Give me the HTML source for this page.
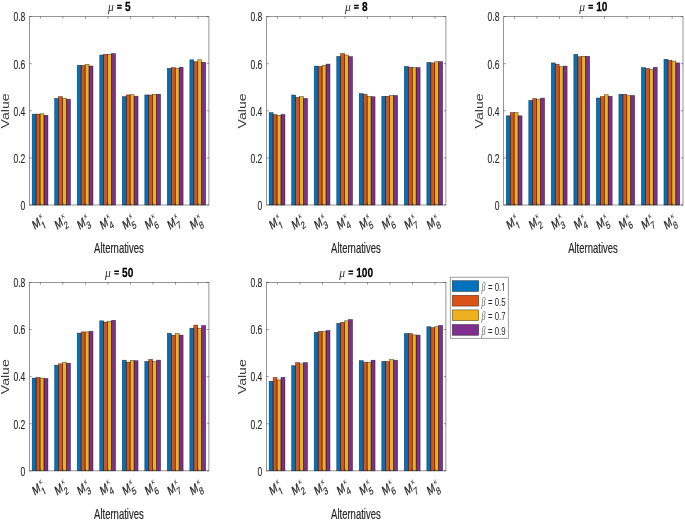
<!DOCTYPE html>
<html><head><meta charset="utf-8"><title>Figure</title>
<style>
html,body{margin:0;padding:0;background:#fff;}
body{width:685px;height:521px;overflow:hidden;}
svg{display:block;will-change:transform;}
text{font-family:"Liberation Sans",sans-serif;fill:#262626;}
.tk{font-size:12.8px;stroke:#262626;stroke-width:0.12;}
.lb{font-size:14.2px;stroke:#262626;stroke-width:0.2;}
.tt{font-size:13.3px;font-weight:bold;fill:#000;stroke:#000;stroke-width:0.25;}
.tmu{font-family:"Liberation Serif",serif;font-style:italic;font-size:12.2px;fill:#333;}
.xm{font-size:12.9px;stroke:#262626;stroke-width:0.3;}
.xs{font-size:10.6px;stroke:#262626;stroke-width:0.2;}
.xk{font-size:7.8px;}
.lbv{font-size:14.1px;fill:#3c3c3c;}
.lg{font-size:11.4px;}
.lg .be{font-family:"Liberation Serif",serif;font-style:italic;font-size:11.8px;fill:#6a6a6a;}
</style></head>
<body>
<svg width="685" height="521" viewBox="0 0 685 521">
<rect width="685" height="521" fill="#fff"/>
<rect x="32.16" y="114.1" width="3.95" height="90.9" fill="#0072BD"/>
<rect x="36.11" y="114.1" width="3.95" height="90.9" fill="#D95319"/>
<rect x="40.06" y="113.8" width="3.95" height="91.2" fill="#EDB120"/>
<rect x="44.01" y="115.3" width="3.95" height="89.7" fill="#7E2F8E"/>
<rect x="32.16" y="114.1" width="3.95" height="90.9" fill="none" stroke="#000" stroke-width="0.6" stroke-opacity="0.6"/>
<rect x="36.11" y="114.1" width="3.95" height="90.9" fill="none" stroke="#000" stroke-width="0.6" stroke-opacity="0.6"/>
<rect x="40.06" y="113.8" width="3.95" height="91.2" fill="none" stroke="#000" stroke-width="0.6" stroke-opacity="0.6"/>
<rect x="44.01" y="115.3" width="3.95" height="89.7" fill="none" stroke="#000" stroke-width="0.6" stroke-opacity="0.6"/>
<rect x="54.68" y="98.4" width="3.95" height="106.6" fill="#0072BD"/>
<rect x="58.63" y="96.6" width="3.95" height="108.4" fill="#D95319"/>
<rect x="62.58" y="98.4" width="3.95" height="106.6" fill="#EDB120"/>
<rect x="66.53" y="99.2" width="3.95" height="105.8" fill="#7E2F8E"/>
<rect x="54.68" y="98.4" width="3.95" height="106.6" fill="none" stroke="#000" stroke-width="0.6" stroke-opacity="0.6"/>
<rect x="58.63" y="96.6" width="3.95" height="108.4" fill="none" stroke="#000" stroke-width="0.6" stroke-opacity="0.6"/>
<rect x="62.58" y="98.4" width="3.95" height="106.6" fill="none" stroke="#000" stroke-width="0.6" stroke-opacity="0.6"/>
<rect x="66.53" y="99.2" width="3.95" height="105.8" fill="none" stroke="#000" stroke-width="0.6" stroke-opacity="0.6"/>
<rect x="77.21" y="65.4" width="3.95" height="139.6" fill="#0072BD"/>
<rect x="81.16" y="65.4" width="3.95" height="139.6" fill="#D95319"/>
<rect x="85.11" y="64.4" width="3.95" height="140.6" fill="#EDB120"/>
<rect x="89.06" y="66" width="3.95" height="139" fill="#7E2F8E"/>
<rect x="77.21" y="65.4" width="3.95" height="139.6" fill="none" stroke="#000" stroke-width="0.6" stroke-opacity="0.6"/>
<rect x="81.16" y="65.4" width="3.95" height="139.6" fill="none" stroke="#000" stroke-width="0.6" stroke-opacity="0.6"/>
<rect x="85.11" y="64.4" width="3.95" height="140.6" fill="none" stroke="#000" stroke-width="0.6" stroke-opacity="0.6"/>
<rect x="89.06" y="66" width="3.95" height="139" fill="none" stroke="#000" stroke-width="0.6" stroke-opacity="0.6"/>
<rect x="99.74" y="55" width="3.95" height="150" fill="#0072BD"/>
<rect x="103.69" y="54.3" width="3.95" height="150.7" fill="#D95319"/>
<rect x="107.64" y="54.3" width="3.95" height="150.7" fill="#EDB120"/>
<rect x="111.59" y="53.5" width="3.95" height="151.5" fill="#7E2F8E"/>
<rect x="99.74" y="55" width="3.95" height="150" fill="none" stroke="#000" stroke-width="0.6" stroke-opacity="0.6"/>
<rect x="103.69" y="54.3" width="3.95" height="150.7" fill="none" stroke="#000" stroke-width="0.6" stroke-opacity="0.6"/>
<rect x="107.64" y="54.3" width="3.95" height="150.7" fill="none" stroke="#000" stroke-width="0.6" stroke-opacity="0.6"/>
<rect x="111.59" y="53.5" width="3.95" height="151.5" fill="none" stroke="#000" stroke-width="0.6" stroke-opacity="0.6"/>
<rect x="122.26" y="96.6" width="3.95" height="108.4" fill="#0072BD"/>
<rect x="126.21" y="94.9" width="3.95" height="110.1" fill="#D95319"/>
<rect x="130.16" y="94.7" width="3.95" height="110.3" fill="#EDB120"/>
<rect x="134.11" y="96.2" width="3.95" height="108.8" fill="#7E2F8E"/>
<rect x="122.26" y="96.6" width="3.95" height="108.4" fill="none" stroke="#000" stroke-width="0.6" stroke-opacity="0.6"/>
<rect x="126.21" y="94.9" width="3.95" height="110.1" fill="none" stroke="#000" stroke-width="0.6" stroke-opacity="0.6"/>
<rect x="130.16" y="94.7" width="3.95" height="110.3" fill="none" stroke="#000" stroke-width="0.6" stroke-opacity="0.6"/>
<rect x="134.11" y="96.2" width="3.95" height="108.8" fill="none" stroke="#000" stroke-width="0.6" stroke-opacity="0.6"/>
<rect x="144.79" y="94.9" width="3.95" height="110.1" fill="#0072BD"/>
<rect x="148.74" y="95" width="3.95" height="110" fill="#D95319"/>
<rect x="152.69" y="94.3" width="3.95" height="110.7" fill="#EDB120"/>
<rect x="156.64" y="94.2" width="3.95" height="110.8" fill="#7E2F8E"/>
<rect x="144.79" y="94.9" width="3.95" height="110.1" fill="none" stroke="#000" stroke-width="0.6" stroke-opacity="0.6"/>
<rect x="148.74" y="95" width="3.95" height="110" fill="none" stroke="#000" stroke-width="0.6" stroke-opacity="0.6"/>
<rect x="152.69" y="94.3" width="3.95" height="110.7" fill="none" stroke="#000" stroke-width="0.6" stroke-opacity="0.6"/>
<rect x="156.64" y="94.2" width="3.95" height="110.8" fill="none" stroke="#000" stroke-width="0.6" stroke-opacity="0.6"/>
<rect x="167.32" y="68.3" width="3.95" height="136.7" fill="#0072BD"/>
<rect x="171.27" y="67.6" width="3.95" height="137.4" fill="#D95319"/>
<rect x="175.22" y="68.4" width="3.95" height="136.6" fill="#EDB120"/>
<rect x="179.17" y="67.2" width="3.95" height="137.8" fill="#7E2F8E"/>
<rect x="167.32" y="68.3" width="3.95" height="136.7" fill="none" stroke="#000" stroke-width="0.6" stroke-opacity="0.6"/>
<rect x="171.27" y="67.6" width="3.95" height="137.4" fill="none" stroke="#000" stroke-width="0.6" stroke-opacity="0.6"/>
<rect x="175.22" y="68.4" width="3.95" height="136.6" fill="none" stroke="#000" stroke-width="0.6" stroke-opacity="0.6"/>
<rect x="179.17" y="67.2" width="3.95" height="137.8" fill="none" stroke="#000" stroke-width="0.6" stroke-opacity="0.6"/>
<rect x="189.84" y="59.8" width="3.95" height="145.2" fill="#0072BD"/>
<rect x="193.79" y="61.7" width="3.95" height="143.3" fill="#D95319"/>
<rect x="197.74" y="59.7" width="3.95" height="145.3" fill="#EDB120"/>
<rect x="201.69" y="62.2" width="3.95" height="142.8" fill="#7E2F8E"/>
<rect x="189.84" y="59.8" width="3.95" height="145.2" fill="none" stroke="#000" stroke-width="0.6" stroke-opacity="0.6"/>
<rect x="193.79" y="61.7" width="3.95" height="143.3" fill="none" stroke="#000" stroke-width="0.6" stroke-opacity="0.6"/>
<rect x="197.74" y="59.7" width="3.95" height="145.3" fill="none" stroke="#000" stroke-width="0.6" stroke-opacity="0.6"/>
<rect x="201.69" y="62.2" width="3.95" height="142.8" fill="none" stroke="#000" stroke-width="0.6" stroke-opacity="0.6"/>
<rect x="29.5" y="16.6" width="179.4" height="188.4" fill="none" stroke="#262626" stroke-width="0.8" stroke-opacity="0.6"/>
<line x1="40.36" y1="205" x2="40.36" y2="202.8" stroke="#262626" stroke-width="0.8" stroke-opacity="0.6"/>
<line x1="40.36" y1="16.6" x2="40.36" y2="18.8" stroke="#262626" stroke-width="0.8" stroke-opacity="0.6"/>
<line x1="62.88" y1="205" x2="62.88" y2="202.8" stroke="#262626" stroke-width="0.8" stroke-opacity="0.6"/>
<line x1="62.88" y1="16.6" x2="62.88" y2="18.8" stroke="#262626" stroke-width="0.8" stroke-opacity="0.6"/>
<line x1="85.41" y1="205" x2="85.41" y2="202.8" stroke="#262626" stroke-width="0.8" stroke-opacity="0.6"/>
<line x1="85.41" y1="16.6" x2="85.41" y2="18.8" stroke="#262626" stroke-width="0.8" stroke-opacity="0.6"/>
<line x1="107.94" y1="205" x2="107.94" y2="202.8" stroke="#262626" stroke-width="0.8" stroke-opacity="0.6"/>
<line x1="107.94" y1="16.6" x2="107.94" y2="18.8" stroke="#262626" stroke-width="0.8" stroke-opacity="0.6"/>
<line x1="130.46" y1="205" x2="130.46" y2="202.8" stroke="#262626" stroke-width="0.8" stroke-opacity="0.6"/>
<line x1="130.46" y1="16.6" x2="130.46" y2="18.8" stroke="#262626" stroke-width="0.8" stroke-opacity="0.6"/>
<line x1="152.99" y1="205" x2="152.99" y2="202.8" stroke="#262626" stroke-width="0.8" stroke-opacity="0.6"/>
<line x1="152.99" y1="16.6" x2="152.99" y2="18.8" stroke="#262626" stroke-width="0.8" stroke-opacity="0.6"/>
<line x1="175.52" y1="205" x2="175.52" y2="202.8" stroke="#262626" stroke-width="0.8" stroke-opacity="0.6"/>
<line x1="175.52" y1="16.6" x2="175.52" y2="18.8" stroke="#262626" stroke-width="0.8" stroke-opacity="0.6"/>
<line x1="198.04" y1="205" x2="198.04" y2="202.8" stroke="#262626" stroke-width="0.8" stroke-opacity="0.6"/>
<line x1="198.04" y1="16.6" x2="198.04" y2="18.8" stroke="#262626" stroke-width="0.8" stroke-opacity="0.6"/>
<line x1="29.5" y1="205" x2="31.7" y2="205" stroke="#262626" stroke-width="0.8" stroke-opacity="0.6"/>
<line x1="208.9" y1="205" x2="206.7" y2="205" stroke="#262626" stroke-width="0.8" stroke-opacity="0.6"/>
<line x1="29.5" y1="157.9" x2="31.7" y2="157.9" stroke="#262626" stroke-width="0.8" stroke-opacity="0.6"/>
<line x1="208.9" y1="157.9" x2="206.7" y2="157.9" stroke="#262626" stroke-width="0.8" stroke-opacity="0.6"/>
<line x1="29.5" y1="110.8" x2="31.7" y2="110.8" stroke="#262626" stroke-width="0.8" stroke-opacity="0.6"/>
<line x1="208.9" y1="110.8" x2="206.7" y2="110.8" stroke="#262626" stroke-width="0.8" stroke-opacity="0.6"/>
<line x1="29.5" y1="63.7" x2="31.7" y2="63.7" stroke="#262626" stroke-width="0.8" stroke-opacity="0.6"/>
<line x1="208.9" y1="63.7" x2="206.7" y2="63.7" stroke="#262626" stroke-width="0.8" stroke-opacity="0.6"/>
<line x1="29.5" y1="16.6" x2="31.7" y2="16.6" stroke="#262626" stroke-width="0.8" stroke-opacity="0.6"/>
<line x1="208.9" y1="16.6" x2="206.7" y2="16.6" stroke="#262626" stroke-width="0.8" stroke-opacity="0.6"/>
<text class="tk" text-anchor="end" transform="translate(25.3,209.85) scale(0.67,1)">0</text>
<text class="tk" text-anchor="end" transform="translate(25.3,162.75) scale(0.67,1)">0.2</text>
<text class="tk" text-anchor="end" transform="translate(25.3,115.65) scale(0.67,1)">0.4</text>
<text class="tk" text-anchor="end" transform="translate(25.3,68.55) scale(0.67,1)">0.6</text>
<text class="tk" text-anchor="end" transform="translate(25.3,21.45) scale(0.67,1)">0.8</text>
<text class="lbv" text-anchor="middle" transform="translate(8.9,110.9) scale(0.72,1) rotate(-90)">Value</text>
<text class="lb" text-anchor="middle" transform="translate(118.9,252.9) scale(0.67,1)">Alternatives</text>
<g transform="translate(119.6,11) scale(0.76,1)"><text class="tmu" transform="translate(-15.34,0) scale(1.25,1.02)">&#956;</text><path d="M-3.32,-3.65h6.1v1.45h-6.1zM-3.32,-6.25h6.1v1.4h-6.1z" fill="#000"/><text class="tt" x="6.95" y="0">5</text></g>
<g transform="translate(34.56,229.9) scale(0.7,1) rotate(-30)"><text class="xm" x="0" y="0">M</text><path d="M515,0L515,1237L197,1010L197,1180L530,1409L696,1409L696,0Z" transform="translate(10.9,6.1) scale(0.005176,-0.005176)" fill="#262626" stroke="#262626" stroke-width="40"/><text class="xk" x="12.2" y="-5.6">&#954;</text></g>
<g transform="translate(57.08,229.9) scale(0.7,1) rotate(-30)"><text class="xm" x="0" y="0">M</text><text class="xs" x="10.9" y="6.1">2</text><text class="xk" x="12.2" y="-5.6">&#954;</text></g>
<g transform="translate(79.61,229.9) scale(0.7,1) rotate(-30)"><text class="xm" x="0" y="0">M</text><text class="xs" x="10.9" y="6.1">3</text><text class="xk" x="12.2" y="-5.6">&#954;</text></g>
<g transform="translate(102.14,229.9) scale(0.7,1) rotate(-30)"><text class="xm" x="0" y="0">M</text><text class="xs" x="10.9" y="6.1">4</text><text class="xk" x="12.2" y="-5.6">&#954;</text></g>
<g transform="translate(124.66,229.9) scale(0.7,1) rotate(-30)"><text class="xm" x="0" y="0">M</text><text class="xs" x="10.9" y="6.1">5</text><text class="xk" x="12.2" y="-5.6">&#954;</text></g>
<g transform="translate(147.19,229.9) scale(0.7,1) rotate(-30)"><text class="xm" x="0" y="0">M</text><text class="xs" x="10.9" y="6.1">6</text><text class="xk" x="12.2" y="-5.6">&#954;</text></g>
<g transform="translate(169.72,229.9) scale(0.7,1) rotate(-30)"><text class="xm" x="0" y="0">M</text><text class="xs" x="10.9" y="6.1">7</text><text class="xk" x="12.2" y="-5.6">&#954;</text></g>
<g transform="translate(192.24,229.9) scale(0.7,1) rotate(-30)"><text class="xm" x="0" y="0">M</text><text class="xs" x="10.9" y="6.1">8</text><text class="xk" x="12.2" y="-5.6">&#954;</text></g>
<rect x="269.16" y="112.6" width="3.95" height="92.4" fill="#0072BD"/>
<rect x="273.11" y="114.6" width="3.95" height="90.4" fill="#D95319"/>
<rect x="277.06" y="115.3" width="3.95" height="89.7" fill="#EDB120"/>
<rect x="281.01" y="114.5" width="3.95" height="90.5" fill="#7E2F8E"/>
<rect x="269.16" y="112.6" width="3.95" height="92.4" fill="none" stroke="#000" stroke-width="0.6" stroke-opacity="0.6"/>
<rect x="273.11" y="114.6" width="3.95" height="90.4" fill="none" stroke="#000" stroke-width="0.6" stroke-opacity="0.6"/>
<rect x="277.06" y="115.3" width="3.95" height="89.7" fill="none" stroke="#000" stroke-width="0.6" stroke-opacity="0.6"/>
<rect x="281.01" y="114.5" width="3.95" height="90.5" fill="none" stroke="#000" stroke-width="0.6" stroke-opacity="0.6"/>
<rect x="291.68" y="95" width="3.95" height="110" fill="#0072BD"/>
<rect x="295.63" y="97.3" width="3.95" height="107.7" fill="#D95319"/>
<rect x="299.58" y="96.6" width="3.95" height="108.4" fill="#EDB120"/>
<rect x="303.53" y="98.4" width="3.95" height="106.6" fill="#7E2F8E"/>
<rect x="291.68" y="95" width="3.95" height="110" fill="none" stroke="#000" stroke-width="0.6" stroke-opacity="0.6"/>
<rect x="295.63" y="97.3" width="3.95" height="107.7" fill="none" stroke="#000" stroke-width="0.6" stroke-opacity="0.6"/>
<rect x="299.58" y="96.6" width="3.95" height="108.4" fill="none" stroke="#000" stroke-width="0.6" stroke-opacity="0.6"/>
<rect x="303.53" y="98.4" width="3.95" height="106.6" fill="none" stroke="#000" stroke-width="0.6" stroke-opacity="0.6"/>
<rect x="314.21" y="66.1" width="3.95" height="138.9" fill="#0072BD"/>
<rect x="318.16" y="66.5" width="3.95" height="138.5" fill="#D95319"/>
<rect x="322.11" y="65.4" width="3.95" height="139.6" fill="#EDB120"/>
<rect x="326.06" y="64.1" width="3.95" height="140.9" fill="#7E2F8E"/>
<rect x="314.21" y="66.1" width="3.95" height="138.9" fill="none" stroke="#000" stroke-width="0.6" stroke-opacity="0.6"/>
<rect x="318.16" y="66.5" width="3.95" height="138.5" fill="none" stroke="#000" stroke-width="0.6" stroke-opacity="0.6"/>
<rect x="322.11" y="65.4" width="3.95" height="139.6" fill="none" stroke="#000" stroke-width="0.6" stroke-opacity="0.6"/>
<rect x="326.06" y="64.1" width="3.95" height="140.9" fill="none" stroke="#000" stroke-width="0.6" stroke-opacity="0.6"/>
<rect x="336.74" y="56.4" width="3.95" height="148.6" fill="#0072BD"/>
<rect x="340.69" y="53.6" width="3.95" height="151.4" fill="#D95319"/>
<rect x="344.64" y="55" width="3.95" height="150" fill="#EDB120"/>
<rect x="348.59" y="56.6" width="3.95" height="148.4" fill="#7E2F8E"/>
<rect x="336.74" y="56.4" width="3.95" height="148.6" fill="none" stroke="#000" stroke-width="0.6" stroke-opacity="0.6"/>
<rect x="340.69" y="53.6" width="3.95" height="151.4" fill="none" stroke="#000" stroke-width="0.6" stroke-opacity="0.6"/>
<rect x="344.64" y="55" width="3.95" height="150" fill="none" stroke="#000" stroke-width="0.6" stroke-opacity="0.6"/>
<rect x="348.59" y="56.6" width="3.95" height="148.4" fill="none" stroke="#000" stroke-width="0.6" stroke-opacity="0.6"/>
<rect x="359.26" y="93.5" width="3.95" height="111.5" fill="#0072BD"/>
<rect x="363.21" y="94.3" width="3.95" height="110.7" fill="#D95319"/>
<rect x="367.16" y="96.3" width="3.95" height="108.7" fill="#EDB120"/>
<rect x="371.11" y="96.7" width="3.95" height="108.3" fill="#7E2F8E"/>
<rect x="359.26" y="93.5" width="3.95" height="111.5" fill="none" stroke="#000" stroke-width="0.6" stroke-opacity="0.6"/>
<rect x="363.21" y="94.3" width="3.95" height="110.7" fill="none" stroke="#000" stroke-width="0.6" stroke-opacity="0.6"/>
<rect x="367.16" y="96.3" width="3.95" height="108.7" fill="none" stroke="#000" stroke-width="0.6" stroke-opacity="0.6"/>
<rect x="371.11" y="96.7" width="3.95" height="108.3" fill="none" stroke="#000" stroke-width="0.6" stroke-opacity="0.6"/>
<rect x="381.79" y="96.3" width="3.95" height="108.7" fill="#0072BD"/>
<rect x="385.74" y="96.3" width="3.95" height="108.7" fill="#D95319"/>
<rect x="389.69" y="95.5" width="3.95" height="109.5" fill="#EDB120"/>
<rect x="393.64" y="95.5" width="3.95" height="109.5" fill="#7E2F8E"/>
<rect x="381.79" y="96.3" width="3.95" height="108.7" fill="none" stroke="#000" stroke-width="0.6" stroke-opacity="0.6"/>
<rect x="385.74" y="96.3" width="3.95" height="108.7" fill="none" stroke="#000" stroke-width="0.6" stroke-opacity="0.6"/>
<rect x="389.69" y="95.5" width="3.95" height="109.5" fill="none" stroke="#000" stroke-width="0.6" stroke-opacity="0.6"/>
<rect x="393.64" y="95.5" width="3.95" height="109.5" fill="none" stroke="#000" stroke-width="0.6" stroke-opacity="0.6"/>
<rect x="404.32" y="66.5" width="3.95" height="138.5" fill="#0072BD"/>
<rect x="408.27" y="67.2" width="3.95" height="137.8" fill="#D95319"/>
<rect x="412.22" y="67.6" width="3.95" height="137.4" fill="#EDB120"/>
<rect x="416.17" y="67.6" width="3.95" height="137.4" fill="#7E2F8E"/>
<rect x="404.32" y="66.5" width="3.95" height="138.5" fill="none" stroke="#000" stroke-width="0.6" stroke-opacity="0.6"/>
<rect x="408.27" y="67.2" width="3.95" height="137.8" fill="none" stroke="#000" stroke-width="0.6" stroke-opacity="0.6"/>
<rect x="412.22" y="67.6" width="3.95" height="137.4" fill="none" stroke="#000" stroke-width="0.6" stroke-opacity="0.6"/>
<rect x="416.17" y="67.6" width="3.95" height="137.4" fill="none" stroke="#000" stroke-width="0.6" stroke-opacity="0.6"/>
<rect x="426.84" y="62.4" width="3.95" height="142.6" fill="#0072BD"/>
<rect x="430.79" y="62.9" width="3.95" height="142.1" fill="#D95319"/>
<rect x="434.74" y="61.7" width="3.95" height="143.3" fill="#EDB120"/>
<rect x="438.69" y="61.6" width="3.95" height="143.4" fill="#7E2F8E"/>
<rect x="426.84" y="62.4" width="3.95" height="142.6" fill="none" stroke="#000" stroke-width="0.6" stroke-opacity="0.6"/>
<rect x="430.79" y="62.9" width="3.95" height="142.1" fill="none" stroke="#000" stroke-width="0.6" stroke-opacity="0.6"/>
<rect x="434.74" y="61.7" width="3.95" height="143.3" fill="none" stroke="#000" stroke-width="0.6" stroke-opacity="0.6"/>
<rect x="438.69" y="61.6" width="3.95" height="143.4" fill="none" stroke="#000" stroke-width="0.6" stroke-opacity="0.6"/>
<rect x="266.5" y="16.6" width="179.4" height="188.4" fill="none" stroke="#262626" stroke-width="0.8" stroke-opacity="0.6"/>
<line x1="277.36" y1="205" x2="277.36" y2="202.8" stroke="#262626" stroke-width="0.8" stroke-opacity="0.6"/>
<line x1="277.36" y1="16.6" x2="277.36" y2="18.8" stroke="#262626" stroke-width="0.8" stroke-opacity="0.6"/>
<line x1="299.88" y1="205" x2="299.88" y2="202.8" stroke="#262626" stroke-width="0.8" stroke-opacity="0.6"/>
<line x1="299.88" y1="16.6" x2="299.88" y2="18.8" stroke="#262626" stroke-width="0.8" stroke-opacity="0.6"/>
<line x1="322.41" y1="205" x2="322.41" y2="202.8" stroke="#262626" stroke-width="0.8" stroke-opacity="0.6"/>
<line x1="322.41" y1="16.6" x2="322.41" y2="18.8" stroke="#262626" stroke-width="0.8" stroke-opacity="0.6"/>
<line x1="344.94" y1="205" x2="344.94" y2="202.8" stroke="#262626" stroke-width="0.8" stroke-opacity="0.6"/>
<line x1="344.94" y1="16.6" x2="344.94" y2="18.8" stroke="#262626" stroke-width="0.8" stroke-opacity="0.6"/>
<line x1="367.46" y1="205" x2="367.46" y2="202.8" stroke="#262626" stroke-width="0.8" stroke-opacity="0.6"/>
<line x1="367.46" y1="16.6" x2="367.46" y2="18.8" stroke="#262626" stroke-width="0.8" stroke-opacity="0.6"/>
<line x1="389.99" y1="205" x2="389.99" y2="202.8" stroke="#262626" stroke-width="0.8" stroke-opacity="0.6"/>
<line x1="389.99" y1="16.6" x2="389.99" y2="18.8" stroke="#262626" stroke-width="0.8" stroke-opacity="0.6"/>
<line x1="412.52" y1="205" x2="412.52" y2="202.8" stroke="#262626" stroke-width="0.8" stroke-opacity="0.6"/>
<line x1="412.52" y1="16.6" x2="412.52" y2="18.8" stroke="#262626" stroke-width="0.8" stroke-opacity="0.6"/>
<line x1="435.04" y1="205" x2="435.04" y2="202.8" stroke="#262626" stroke-width="0.8" stroke-opacity="0.6"/>
<line x1="435.04" y1="16.6" x2="435.04" y2="18.8" stroke="#262626" stroke-width="0.8" stroke-opacity="0.6"/>
<line x1="266.5" y1="205" x2="268.7" y2="205" stroke="#262626" stroke-width="0.8" stroke-opacity="0.6"/>
<line x1="445.9" y1="205" x2="443.7" y2="205" stroke="#262626" stroke-width="0.8" stroke-opacity="0.6"/>
<line x1="266.5" y1="157.9" x2="268.7" y2="157.9" stroke="#262626" stroke-width="0.8" stroke-opacity="0.6"/>
<line x1="445.9" y1="157.9" x2="443.7" y2="157.9" stroke="#262626" stroke-width="0.8" stroke-opacity="0.6"/>
<line x1="266.5" y1="110.8" x2="268.7" y2="110.8" stroke="#262626" stroke-width="0.8" stroke-opacity="0.6"/>
<line x1="445.9" y1="110.8" x2="443.7" y2="110.8" stroke="#262626" stroke-width="0.8" stroke-opacity="0.6"/>
<line x1="266.5" y1="63.7" x2="268.7" y2="63.7" stroke="#262626" stroke-width="0.8" stroke-opacity="0.6"/>
<line x1="445.9" y1="63.7" x2="443.7" y2="63.7" stroke="#262626" stroke-width="0.8" stroke-opacity="0.6"/>
<line x1="266.5" y1="16.6" x2="268.7" y2="16.6" stroke="#262626" stroke-width="0.8" stroke-opacity="0.6"/>
<line x1="445.9" y1="16.6" x2="443.7" y2="16.6" stroke="#262626" stroke-width="0.8" stroke-opacity="0.6"/>
<text class="tk" text-anchor="end" transform="translate(262.3,209.85) scale(0.67,1)">0</text>
<text class="tk" text-anchor="end" transform="translate(262.3,162.75) scale(0.67,1)">0.2</text>
<text class="tk" text-anchor="end" transform="translate(262.3,115.65) scale(0.67,1)">0.4</text>
<text class="tk" text-anchor="end" transform="translate(262.3,68.55) scale(0.67,1)">0.6</text>
<text class="tk" text-anchor="end" transform="translate(262.3,21.45) scale(0.67,1)">0.8</text>
<text class="lbv" text-anchor="middle" transform="translate(245.9,110.9) scale(0.72,1) rotate(-90)">Value</text>
<text class="lb" text-anchor="middle" transform="translate(355.9,252.9) scale(0.67,1)">Alternatives</text>
<g transform="translate(356.6,11) scale(0.76,1)"><text class="tmu" transform="translate(-15.34,0) scale(1.25,1.02)">&#956;</text><path d="M-3.32,-3.65h6.1v1.45h-6.1zM-3.32,-6.25h6.1v1.4h-6.1z" fill="#000"/><text class="tt" x="6.95" y="0">8</text></g>
<g transform="translate(271.56,229.9) scale(0.7,1) rotate(-30)"><text class="xm" x="0" y="0">M</text><path d="M515,0L515,1237L197,1010L197,1180L530,1409L696,1409L696,0Z" transform="translate(10.9,6.1) scale(0.005176,-0.005176)" fill="#262626" stroke="#262626" stroke-width="40"/><text class="xk" x="12.2" y="-5.6">&#954;</text></g>
<g transform="translate(294.08,229.9) scale(0.7,1) rotate(-30)"><text class="xm" x="0" y="0">M</text><text class="xs" x="10.9" y="6.1">2</text><text class="xk" x="12.2" y="-5.6">&#954;</text></g>
<g transform="translate(316.61,229.9) scale(0.7,1) rotate(-30)"><text class="xm" x="0" y="0">M</text><text class="xs" x="10.9" y="6.1">3</text><text class="xk" x="12.2" y="-5.6">&#954;</text></g>
<g transform="translate(339.14,229.9) scale(0.7,1) rotate(-30)"><text class="xm" x="0" y="0">M</text><text class="xs" x="10.9" y="6.1">4</text><text class="xk" x="12.2" y="-5.6">&#954;</text></g>
<g transform="translate(361.66,229.9) scale(0.7,1) rotate(-30)"><text class="xm" x="0" y="0">M</text><text class="xs" x="10.9" y="6.1">5</text><text class="xk" x="12.2" y="-5.6">&#954;</text></g>
<g transform="translate(384.19,229.9) scale(0.7,1) rotate(-30)"><text class="xm" x="0" y="0">M</text><text class="xs" x="10.9" y="6.1">6</text><text class="xk" x="12.2" y="-5.6">&#954;</text></g>
<g transform="translate(406.72,229.9) scale(0.7,1) rotate(-30)"><text class="xm" x="0" y="0">M</text><text class="xs" x="10.9" y="6.1">7</text><text class="xk" x="12.2" y="-5.6">&#954;</text></g>
<g transform="translate(429.24,229.9) scale(0.7,1) rotate(-30)"><text class="xm" x="0" y="0">M</text><text class="xs" x="10.9" y="6.1">8</text><text class="xk" x="12.2" y="-5.6">&#954;</text></g>
<rect x="506.26" y="115.8" width="3.95" height="89.2" fill="#0072BD"/>
<rect x="510.21" y="112.6" width="3.95" height="92.4" fill="#D95319"/>
<rect x="514.16" y="112.6" width="3.95" height="92.4" fill="#EDB120"/>
<rect x="518.11" y="115.8" width="3.95" height="89.2" fill="#7E2F8E"/>
<rect x="506.26" y="115.8" width="3.95" height="89.2" fill="none" stroke="#000" stroke-width="0.6" stroke-opacity="0.6"/>
<rect x="510.21" y="112.6" width="3.95" height="92.4" fill="none" stroke="#000" stroke-width="0.6" stroke-opacity="0.6"/>
<rect x="514.16" y="112.6" width="3.95" height="92.4" fill="none" stroke="#000" stroke-width="0.6" stroke-opacity="0.6"/>
<rect x="518.11" y="115.8" width="3.95" height="89.2" fill="none" stroke="#000" stroke-width="0.6" stroke-opacity="0.6"/>
<rect x="528.78" y="100.4" width="3.95" height="104.6" fill="#0072BD"/>
<rect x="532.73" y="98.5" width="3.95" height="106.5" fill="#D95319"/>
<rect x="536.68" y="99.4" width="3.95" height="105.6" fill="#EDB120"/>
<rect x="540.63" y="98.1" width="3.95" height="106.9" fill="#7E2F8E"/>
<rect x="528.78" y="100.4" width="3.95" height="104.6" fill="none" stroke="#000" stroke-width="0.6" stroke-opacity="0.6"/>
<rect x="532.73" y="98.5" width="3.95" height="106.5" fill="none" stroke="#000" stroke-width="0.6" stroke-opacity="0.6"/>
<rect x="536.68" y="99.4" width="3.95" height="105.6" fill="none" stroke="#000" stroke-width="0.6" stroke-opacity="0.6"/>
<rect x="540.63" y="98.1" width="3.95" height="106.9" fill="none" stroke="#000" stroke-width="0.6" stroke-opacity="0.6"/>
<rect x="551.31" y="62.9" width="3.95" height="142.1" fill="#0072BD"/>
<rect x="555.26" y="64.2" width="3.95" height="140.8" fill="#D95319"/>
<rect x="559.21" y="66.7" width="3.95" height="138.3" fill="#EDB120"/>
<rect x="563.16" y="66.1" width="3.95" height="138.9" fill="#7E2F8E"/>
<rect x="551.31" y="62.9" width="3.95" height="142.1" fill="none" stroke="#000" stroke-width="0.6" stroke-opacity="0.6"/>
<rect x="555.26" y="64.2" width="3.95" height="140.8" fill="none" stroke="#000" stroke-width="0.6" stroke-opacity="0.6"/>
<rect x="559.21" y="66.7" width="3.95" height="138.3" fill="none" stroke="#000" stroke-width="0.6" stroke-opacity="0.6"/>
<rect x="563.16" y="66.1" width="3.95" height="138.9" fill="none" stroke="#000" stroke-width="0.6" stroke-opacity="0.6"/>
<rect x="573.84" y="54.4" width="3.95" height="150.6" fill="#0072BD"/>
<rect x="577.79" y="56.7" width="3.95" height="148.3" fill="#D95319"/>
<rect x="581.74" y="56.3" width="3.95" height="148.7" fill="#EDB120"/>
<rect x="585.69" y="56.3" width="3.95" height="148.7" fill="#7E2F8E"/>
<rect x="573.84" y="54.4" width="3.95" height="150.6" fill="none" stroke="#000" stroke-width="0.6" stroke-opacity="0.6"/>
<rect x="577.79" y="56.7" width="3.95" height="148.3" fill="none" stroke="#000" stroke-width="0.6" stroke-opacity="0.6"/>
<rect x="581.74" y="56.3" width="3.95" height="148.7" fill="none" stroke="#000" stroke-width="0.6" stroke-opacity="0.6"/>
<rect x="585.69" y="56.3" width="3.95" height="148.7" fill="none" stroke="#000" stroke-width="0.6" stroke-opacity="0.6"/>
<rect x="596.36" y="98" width="3.95" height="107" fill="#0072BD"/>
<rect x="600.31" y="96.6" width="3.95" height="108.4" fill="#D95319"/>
<rect x="604.26" y="94.7" width="3.95" height="110.3" fill="#EDB120"/>
<rect x="608.21" y="96.3" width="3.95" height="108.7" fill="#7E2F8E"/>
<rect x="596.36" y="98" width="3.95" height="107" fill="none" stroke="#000" stroke-width="0.6" stroke-opacity="0.6"/>
<rect x="600.31" y="96.6" width="3.95" height="108.4" fill="none" stroke="#000" stroke-width="0.6" stroke-opacity="0.6"/>
<rect x="604.26" y="94.7" width="3.95" height="110.3" fill="none" stroke="#000" stroke-width="0.6" stroke-opacity="0.6"/>
<rect x="608.21" y="96.3" width="3.95" height="108.7" fill="none" stroke="#000" stroke-width="0.6" stroke-opacity="0.6"/>
<rect x="618.89" y="94.3" width="3.95" height="110.7" fill="#0072BD"/>
<rect x="622.84" y="94.3" width="3.95" height="110.7" fill="#D95319"/>
<rect x="626.79" y="95.7" width="3.95" height="109.3" fill="#EDB120"/>
<rect x="630.74" y="95.5" width="3.95" height="109.5" fill="#7E2F8E"/>
<rect x="618.89" y="94.3" width="3.95" height="110.7" fill="none" stroke="#000" stroke-width="0.6" stroke-opacity="0.6"/>
<rect x="622.84" y="94.3" width="3.95" height="110.7" fill="none" stroke="#000" stroke-width="0.6" stroke-opacity="0.6"/>
<rect x="626.79" y="95.7" width="3.95" height="109.3" fill="none" stroke="#000" stroke-width="0.6" stroke-opacity="0.6"/>
<rect x="630.74" y="95.5" width="3.95" height="109.5" fill="none" stroke="#000" stroke-width="0.6" stroke-opacity="0.6"/>
<rect x="641.42" y="67.6" width="3.95" height="137.4" fill="#0072BD"/>
<rect x="645.37" y="68.4" width="3.95" height="136.6" fill="#D95319"/>
<rect x="649.32" y="69.5" width="3.95" height="135.5" fill="#EDB120"/>
<rect x="653.27" y="67.3" width="3.95" height="137.7" fill="#7E2F8E"/>
<rect x="641.42" y="67.6" width="3.95" height="137.4" fill="none" stroke="#000" stroke-width="0.6" stroke-opacity="0.6"/>
<rect x="645.37" y="68.4" width="3.95" height="136.6" fill="none" stroke="#000" stroke-width="0.6" stroke-opacity="0.6"/>
<rect x="649.32" y="69.5" width="3.95" height="135.5" fill="none" stroke="#000" stroke-width="0.6" stroke-opacity="0.6"/>
<rect x="653.27" y="67.3" width="3.95" height="137.7" fill="none" stroke="#000" stroke-width="0.6" stroke-opacity="0.6"/>
<rect x="663.94" y="59.3" width="3.95" height="145.7" fill="#0072BD"/>
<rect x="667.89" y="60.2" width="3.95" height="144.8" fill="#D95319"/>
<rect x="671.84" y="61.1" width="3.95" height="143.9" fill="#EDB120"/>
<rect x="675.79" y="62.9" width="3.95" height="142.1" fill="#7E2F8E"/>
<rect x="663.94" y="59.3" width="3.95" height="145.7" fill="none" stroke="#000" stroke-width="0.6" stroke-opacity="0.6"/>
<rect x="667.89" y="60.2" width="3.95" height="144.8" fill="none" stroke="#000" stroke-width="0.6" stroke-opacity="0.6"/>
<rect x="671.84" y="61.1" width="3.95" height="143.9" fill="none" stroke="#000" stroke-width="0.6" stroke-opacity="0.6"/>
<rect x="675.79" y="62.9" width="3.95" height="142.1" fill="none" stroke="#000" stroke-width="0.6" stroke-opacity="0.6"/>
<rect x="503.6" y="16.6" width="179.4" height="188.4" fill="none" stroke="#262626" stroke-width="0.8" stroke-opacity="0.6"/>
<line x1="514.46" y1="205" x2="514.46" y2="202.8" stroke="#262626" stroke-width="0.8" stroke-opacity="0.6"/>
<line x1="514.46" y1="16.6" x2="514.46" y2="18.8" stroke="#262626" stroke-width="0.8" stroke-opacity="0.6"/>
<line x1="536.98" y1="205" x2="536.98" y2="202.8" stroke="#262626" stroke-width="0.8" stroke-opacity="0.6"/>
<line x1="536.98" y1="16.6" x2="536.98" y2="18.8" stroke="#262626" stroke-width="0.8" stroke-opacity="0.6"/>
<line x1="559.51" y1="205" x2="559.51" y2="202.8" stroke="#262626" stroke-width="0.8" stroke-opacity="0.6"/>
<line x1="559.51" y1="16.6" x2="559.51" y2="18.8" stroke="#262626" stroke-width="0.8" stroke-opacity="0.6"/>
<line x1="582.04" y1="205" x2="582.04" y2="202.8" stroke="#262626" stroke-width="0.8" stroke-opacity="0.6"/>
<line x1="582.04" y1="16.6" x2="582.04" y2="18.8" stroke="#262626" stroke-width="0.8" stroke-opacity="0.6"/>
<line x1="604.56" y1="205" x2="604.56" y2="202.8" stroke="#262626" stroke-width="0.8" stroke-opacity="0.6"/>
<line x1="604.56" y1="16.6" x2="604.56" y2="18.8" stroke="#262626" stroke-width="0.8" stroke-opacity="0.6"/>
<line x1="627.09" y1="205" x2="627.09" y2="202.8" stroke="#262626" stroke-width="0.8" stroke-opacity="0.6"/>
<line x1="627.09" y1="16.6" x2="627.09" y2="18.8" stroke="#262626" stroke-width="0.8" stroke-opacity="0.6"/>
<line x1="649.62" y1="205" x2="649.62" y2="202.8" stroke="#262626" stroke-width="0.8" stroke-opacity="0.6"/>
<line x1="649.62" y1="16.6" x2="649.62" y2="18.8" stroke="#262626" stroke-width="0.8" stroke-opacity="0.6"/>
<line x1="672.14" y1="205" x2="672.14" y2="202.8" stroke="#262626" stroke-width="0.8" stroke-opacity="0.6"/>
<line x1="672.14" y1="16.6" x2="672.14" y2="18.8" stroke="#262626" stroke-width="0.8" stroke-opacity="0.6"/>
<line x1="503.6" y1="205" x2="505.8" y2="205" stroke="#262626" stroke-width="0.8" stroke-opacity="0.6"/>
<line x1="683" y1="205" x2="680.8" y2="205" stroke="#262626" stroke-width="0.8" stroke-opacity="0.6"/>
<line x1="503.6" y1="157.9" x2="505.8" y2="157.9" stroke="#262626" stroke-width="0.8" stroke-opacity="0.6"/>
<line x1="683" y1="157.9" x2="680.8" y2="157.9" stroke="#262626" stroke-width="0.8" stroke-opacity="0.6"/>
<line x1="503.6" y1="110.8" x2="505.8" y2="110.8" stroke="#262626" stroke-width="0.8" stroke-opacity="0.6"/>
<line x1="683" y1="110.8" x2="680.8" y2="110.8" stroke="#262626" stroke-width="0.8" stroke-opacity="0.6"/>
<line x1="503.6" y1="63.7" x2="505.8" y2="63.7" stroke="#262626" stroke-width="0.8" stroke-opacity="0.6"/>
<line x1="683" y1="63.7" x2="680.8" y2="63.7" stroke="#262626" stroke-width="0.8" stroke-opacity="0.6"/>
<line x1="503.6" y1="16.6" x2="505.8" y2="16.6" stroke="#262626" stroke-width="0.8" stroke-opacity="0.6"/>
<line x1="683" y1="16.6" x2="680.8" y2="16.6" stroke="#262626" stroke-width="0.8" stroke-opacity="0.6"/>
<text class="tk" text-anchor="end" transform="translate(499.4,209.85) scale(0.67,1)">0</text>
<text class="tk" text-anchor="end" transform="translate(499.4,162.75) scale(0.67,1)">0.2</text>
<text class="tk" text-anchor="end" transform="translate(499.4,115.65) scale(0.67,1)">0.4</text>
<text class="tk" text-anchor="end" transform="translate(499.4,68.55) scale(0.67,1)">0.6</text>
<text class="tk" text-anchor="end" transform="translate(499.4,21.45) scale(0.67,1)">0.8</text>
<text class="lbv" text-anchor="middle" transform="translate(483,110.9) scale(0.72,1) rotate(-90)">Value</text>
<text class="lb" text-anchor="middle" transform="translate(593,252.9) scale(0.67,1)">Alternatives</text>
<g transform="translate(593.7,11) scale(0.76,1)"><text class="tmu" transform="translate(-19.05,0) scale(1.25,1.02)">&#956;</text><path d="M-7.03,-3.65h6.1v1.45h-6.1zM-7.03,-6.25h6.1v1.4h-6.1z" fill="#000"/><text class="tt" x="3.24" y="0">10</text></g>
<g transform="translate(508.66,229.9) scale(0.7,1) rotate(-30)"><text class="xm" x="0" y="0">M</text><path d="M515,0L515,1237L197,1010L197,1180L530,1409L696,1409L696,0Z" transform="translate(10.9,6.1) scale(0.005176,-0.005176)" fill="#262626" stroke="#262626" stroke-width="40"/><text class="xk" x="12.2" y="-5.6">&#954;</text></g>
<g transform="translate(531.18,229.9) scale(0.7,1) rotate(-30)"><text class="xm" x="0" y="0">M</text><text class="xs" x="10.9" y="6.1">2</text><text class="xk" x="12.2" y="-5.6">&#954;</text></g>
<g transform="translate(553.71,229.9) scale(0.7,1) rotate(-30)"><text class="xm" x="0" y="0">M</text><text class="xs" x="10.9" y="6.1">3</text><text class="xk" x="12.2" y="-5.6">&#954;</text></g>
<g transform="translate(576.24,229.9) scale(0.7,1) rotate(-30)"><text class="xm" x="0" y="0">M</text><text class="xs" x="10.9" y="6.1">4</text><text class="xk" x="12.2" y="-5.6">&#954;</text></g>
<g transform="translate(598.76,229.9) scale(0.7,1) rotate(-30)"><text class="xm" x="0" y="0">M</text><text class="xs" x="10.9" y="6.1">5</text><text class="xk" x="12.2" y="-5.6">&#954;</text></g>
<g transform="translate(621.29,229.9) scale(0.7,1) rotate(-30)"><text class="xm" x="0" y="0">M</text><text class="xs" x="10.9" y="6.1">6</text><text class="xk" x="12.2" y="-5.6">&#954;</text></g>
<g transform="translate(643.82,229.9) scale(0.7,1) rotate(-30)"><text class="xm" x="0" y="0">M</text><text class="xs" x="10.9" y="6.1">7</text><text class="xk" x="12.2" y="-5.6">&#954;</text></g>
<g transform="translate(666.34,229.9) scale(0.7,1) rotate(-30)"><text class="xm" x="0" y="0">M</text><text class="xs" x="10.9" y="6.1">8</text><text class="xk" x="12.2" y="-5.6">&#954;</text></g>
<rect x="32.16" y="378.1" width="3.95" height="92.7" fill="#0072BD"/>
<rect x="36.11" y="377.4" width="3.95" height="93.4" fill="#D95319"/>
<rect x="40.06" y="378.1" width="3.95" height="92.7" fill="#EDB120"/>
<rect x="44.01" y="378.5" width="3.95" height="92.3" fill="#7E2F8E"/>
<rect x="32.16" y="378.1" width="3.95" height="92.7" fill="none" stroke="#000" stroke-width="0.6" stroke-opacity="0.6"/>
<rect x="36.11" y="377.4" width="3.95" height="93.4" fill="none" stroke="#000" stroke-width="0.6" stroke-opacity="0.6"/>
<rect x="40.06" y="378.1" width="3.95" height="92.7" fill="none" stroke="#000" stroke-width="0.6" stroke-opacity="0.6"/>
<rect x="44.01" y="378.5" width="3.95" height="92.3" fill="none" stroke="#000" stroke-width="0.6" stroke-opacity="0.6"/>
<rect x="54.68" y="365.2" width="3.95" height="105.6" fill="#0072BD"/>
<rect x="58.63" y="363.8" width="3.95" height="107" fill="#D95319"/>
<rect x="62.58" y="362.5" width="3.95" height="108.3" fill="#EDB120"/>
<rect x="66.53" y="363.2" width="3.95" height="107.6" fill="#7E2F8E"/>
<rect x="54.68" y="365.2" width="3.95" height="105.6" fill="none" stroke="#000" stroke-width="0.6" stroke-opacity="0.6"/>
<rect x="58.63" y="363.8" width="3.95" height="107" fill="none" stroke="#000" stroke-width="0.6" stroke-opacity="0.6"/>
<rect x="62.58" y="362.5" width="3.95" height="108.3" fill="none" stroke="#000" stroke-width="0.6" stroke-opacity="0.6"/>
<rect x="66.53" y="363.2" width="3.95" height="107.6" fill="none" stroke="#000" stroke-width="0.6" stroke-opacity="0.6"/>
<rect x="77.21" y="333.1" width="3.95" height="137.7" fill="#0072BD"/>
<rect x="81.16" y="331.9" width="3.95" height="138.9" fill="#D95319"/>
<rect x="85.11" y="331.9" width="3.95" height="138.9" fill="#EDB120"/>
<rect x="89.06" y="331.3" width="3.95" height="139.5" fill="#7E2F8E"/>
<rect x="77.21" y="333.1" width="3.95" height="137.7" fill="none" stroke="#000" stroke-width="0.6" stroke-opacity="0.6"/>
<rect x="81.16" y="331.9" width="3.95" height="138.9" fill="none" stroke="#000" stroke-width="0.6" stroke-opacity="0.6"/>
<rect x="85.11" y="331.9" width="3.95" height="138.9" fill="none" stroke="#000" stroke-width="0.6" stroke-opacity="0.6"/>
<rect x="89.06" y="331.3" width="3.95" height="139.5" fill="none" stroke="#000" stroke-width="0.6" stroke-opacity="0.6"/>
<rect x="99.74" y="320.8" width="3.95" height="150" fill="#0072BD"/>
<rect x="103.69" y="322" width="3.95" height="148.8" fill="#D95319"/>
<rect x="107.64" y="321.4" width="3.95" height="149.4" fill="#EDB120"/>
<rect x="111.59" y="320.3" width="3.95" height="150.5" fill="#7E2F8E"/>
<rect x="99.74" y="320.8" width="3.95" height="150" fill="none" stroke="#000" stroke-width="0.6" stroke-opacity="0.6"/>
<rect x="103.69" y="322" width="3.95" height="148.8" fill="none" stroke="#000" stroke-width="0.6" stroke-opacity="0.6"/>
<rect x="107.64" y="321.4" width="3.95" height="149.4" fill="none" stroke="#000" stroke-width="0.6" stroke-opacity="0.6"/>
<rect x="111.59" y="320.3" width="3.95" height="150.5" fill="none" stroke="#000" stroke-width="0.6" stroke-opacity="0.6"/>
<rect x="122.26" y="360.2" width="3.95" height="110.6" fill="#0072BD"/>
<rect x="126.21" y="362.1" width="3.95" height="108.7" fill="#D95319"/>
<rect x="130.16" y="360.5" width="3.95" height="110.3" fill="#EDB120"/>
<rect x="134.11" y="360.7" width="3.95" height="110.1" fill="#7E2F8E"/>
<rect x="122.26" y="360.2" width="3.95" height="110.6" fill="none" stroke="#000" stroke-width="0.6" stroke-opacity="0.6"/>
<rect x="126.21" y="362.1" width="3.95" height="108.7" fill="none" stroke="#000" stroke-width="0.6" stroke-opacity="0.6"/>
<rect x="130.16" y="360.5" width="3.95" height="110.3" fill="none" stroke="#000" stroke-width="0.6" stroke-opacity="0.6"/>
<rect x="134.11" y="360.7" width="3.95" height="110.1" fill="none" stroke="#000" stroke-width="0.6" stroke-opacity="0.6"/>
<rect x="144.79" y="361.4" width="3.95" height="109.4" fill="#0072BD"/>
<rect x="148.74" y="359.4" width="3.95" height="111.4" fill="#D95319"/>
<rect x="152.69" y="361.5" width="3.95" height="109.3" fill="#EDB120"/>
<rect x="156.64" y="360.1" width="3.95" height="110.7" fill="#7E2F8E"/>
<rect x="144.79" y="361.4" width="3.95" height="109.4" fill="none" stroke="#000" stroke-width="0.6" stroke-opacity="0.6"/>
<rect x="148.74" y="359.4" width="3.95" height="111.4" fill="none" stroke="#000" stroke-width="0.6" stroke-opacity="0.6"/>
<rect x="152.69" y="361.5" width="3.95" height="109.3" fill="none" stroke="#000" stroke-width="0.6" stroke-opacity="0.6"/>
<rect x="156.64" y="360.1" width="3.95" height="110.7" fill="none" stroke="#000" stroke-width="0.6" stroke-opacity="0.6"/>
<rect x="167.32" y="333.2" width="3.95" height="137.6" fill="#0072BD"/>
<rect x="171.27" y="335.1" width="3.95" height="135.7" fill="#D95319"/>
<rect x="175.22" y="333.5" width="3.95" height="137.3" fill="#EDB120"/>
<rect x="179.17" y="335.1" width="3.95" height="135.7" fill="#7E2F8E"/>
<rect x="167.32" y="333.2" width="3.95" height="137.6" fill="none" stroke="#000" stroke-width="0.6" stroke-opacity="0.6"/>
<rect x="171.27" y="335.1" width="3.95" height="135.7" fill="none" stroke="#000" stroke-width="0.6" stroke-opacity="0.6"/>
<rect x="175.22" y="333.5" width="3.95" height="137.3" fill="none" stroke="#000" stroke-width="0.6" stroke-opacity="0.6"/>
<rect x="179.17" y="335.1" width="3.95" height="135.7" fill="none" stroke="#000" stroke-width="0.6" stroke-opacity="0.6"/>
<rect x="189.84" y="328.2" width="3.95" height="142.6" fill="#0072BD"/>
<rect x="193.79" y="325.1" width="3.95" height="145.7" fill="#D95319"/>
<rect x="197.74" y="328.4" width="3.95" height="142.4" fill="#EDB120"/>
<rect x="201.69" y="325.5" width="3.95" height="145.3" fill="#7E2F8E"/>
<rect x="189.84" y="328.2" width="3.95" height="142.6" fill="none" stroke="#000" stroke-width="0.6" stroke-opacity="0.6"/>
<rect x="193.79" y="325.1" width="3.95" height="145.7" fill="none" stroke="#000" stroke-width="0.6" stroke-opacity="0.6"/>
<rect x="197.74" y="328.4" width="3.95" height="142.4" fill="none" stroke="#000" stroke-width="0.6" stroke-opacity="0.6"/>
<rect x="201.69" y="325.5" width="3.95" height="145.3" fill="none" stroke="#000" stroke-width="0.6" stroke-opacity="0.6"/>
<rect x="29.5" y="282.4" width="179.4" height="188.4" fill="none" stroke="#262626" stroke-width="0.8" stroke-opacity="0.6"/>
<line x1="40.36" y1="470.8" x2="40.36" y2="468.6" stroke="#262626" stroke-width="0.8" stroke-opacity="0.6"/>
<line x1="40.36" y1="282.4" x2="40.36" y2="284.6" stroke="#262626" stroke-width="0.8" stroke-opacity="0.6"/>
<line x1="62.88" y1="470.8" x2="62.88" y2="468.6" stroke="#262626" stroke-width="0.8" stroke-opacity="0.6"/>
<line x1="62.88" y1="282.4" x2="62.88" y2="284.6" stroke="#262626" stroke-width="0.8" stroke-opacity="0.6"/>
<line x1="85.41" y1="470.8" x2="85.41" y2="468.6" stroke="#262626" stroke-width="0.8" stroke-opacity="0.6"/>
<line x1="85.41" y1="282.4" x2="85.41" y2="284.6" stroke="#262626" stroke-width="0.8" stroke-opacity="0.6"/>
<line x1="107.94" y1="470.8" x2="107.94" y2="468.6" stroke="#262626" stroke-width="0.8" stroke-opacity="0.6"/>
<line x1="107.94" y1="282.4" x2="107.94" y2="284.6" stroke="#262626" stroke-width="0.8" stroke-opacity="0.6"/>
<line x1="130.46" y1="470.8" x2="130.46" y2="468.6" stroke="#262626" stroke-width="0.8" stroke-opacity="0.6"/>
<line x1="130.46" y1="282.4" x2="130.46" y2="284.6" stroke="#262626" stroke-width="0.8" stroke-opacity="0.6"/>
<line x1="152.99" y1="470.8" x2="152.99" y2="468.6" stroke="#262626" stroke-width="0.8" stroke-opacity="0.6"/>
<line x1="152.99" y1="282.4" x2="152.99" y2="284.6" stroke="#262626" stroke-width="0.8" stroke-opacity="0.6"/>
<line x1="175.52" y1="470.8" x2="175.52" y2="468.6" stroke="#262626" stroke-width="0.8" stroke-opacity="0.6"/>
<line x1="175.52" y1="282.4" x2="175.52" y2="284.6" stroke="#262626" stroke-width="0.8" stroke-opacity="0.6"/>
<line x1="198.04" y1="470.8" x2="198.04" y2="468.6" stroke="#262626" stroke-width="0.8" stroke-opacity="0.6"/>
<line x1="198.04" y1="282.4" x2="198.04" y2="284.6" stroke="#262626" stroke-width="0.8" stroke-opacity="0.6"/>
<line x1="29.5" y1="470.8" x2="31.7" y2="470.8" stroke="#262626" stroke-width="0.8" stroke-opacity="0.6"/>
<line x1="208.9" y1="470.8" x2="206.7" y2="470.8" stroke="#262626" stroke-width="0.8" stroke-opacity="0.6"/>
<line x1="29.5" y1="423.7" x2="31.7" y2="423.7" stroke="#262626" stroke-width="0.8" stroke-opacity="0.6"/>
<line x1="208.9" y1="423.7" x2="206.7" y2="423.7" stroke="#262626" stroke-width="0.8" stroke-opacity="0.6"/>
<line x1="29.5" y1="376.6" x2="31.7" y2="376.6" stroke="#262626" stroke-width="0.8" stroke-opacity="0.6"/>
<line x1="208.9" y1="376.6" x2="206.7" y2="376.6" stroke="#262626" stroke-width="0.8" stroke-opacity="0.6"/>
<line x1="29.5" y1="329.5" x2="31.7" y2="329.5" stroke="#262626" stroke-width="0.8" stroke-opacity="0.6"/>
<line x1="208.9" y1="329.5" x2="206.7" y2="329.5" stroke="#262626" stroke-width="0.8" stroke-opacity="0.6"/>
<line x1="29.5" y1="282.4" x2="31.7" y2="282.4" stroke="#262626" stroke-width="0.8" stroke-opacity="0.6"/>
<line x1="208.9" y1="282.4" x2="206.7" y2="282.4" stroke="#262626" stroke-width="0.8" stroke-opacity="0.6"/>
<text class="tk" text-anchor="end" transform="translate(25.3,475.65) scale(0.67,1)">0</text>
<text class="tk" text-anchor="end" transform="translate(25.3,428.55) scale(0.67,1)">0.2</text>
<text class="tk" text-anchor="end" transform="translate(25.3,381.45) scale(0.67,1)">0.4</text>
<text class="tk" text-anchor="end" transform="translate(25.3,334.35) scale(0.67,1)">0.6</text>
<text class="tk" text-anchor="end" transform="translate(25.3,287.25) scale(0.67,1)">0.8</text>
<text class="lbv" text-anchor="middle" transform="translate(8.9,376.7) scale(0.72,1) rotate(-90)">Value</text>
<text class="lb" text-anchor="middle" transform="translate(118.9,518.7) scale(0.67,1)">Alternatives</text>
<g transform="translate(119.6,276.8) scale(0.76,1)"><text class="tmu" transform="translate(-19.05,0) scale(1.25,1.02)">&#956;</text><path d="M-7.03,-3.65h6.1v1.45h-6.1zM-7.03,-6.25h6.1v1.4h-6.1z" fill="#000"/><text class="tt" x="3.24" y="0">50</text></g>
<g transform="translate(34.56,495.7) scale(0.7,1) rotate(-30)"><text class="xm" x="0" y="0">M</text><path d="M515,0L515,1237L197,1010L197,1180L530,1409L696,1409L696,0Z" transform="translate(10.9,6.1) scale(0.005176,-0.005176)" fill="#262626" stroke="#262626" stroke-width="40"/><text class="xk" x="12.2" y="-5.6">&#954;</text></g>
<g transform="translate(57.08,495.7) scale(0.7,1) rotate(-30)"><text class="xm" x="0" y="0">M</text><text class="xs" x="10.9" y="6.1">2</text><text class="xk" x="12.2" y="-5.6">&#954;</text></g>
<g transform="translate(79.61,495.7) scale(0.7,1) rotate(-30)"><text class="xm" x="0" y="0">M</text><text class="xs" x="10.9" y="6.1">3</text><text class="xk" x="12.2" y="-5.6">&#954;</text></g>
<g transform="translate(102.14,495.7) scale(0.7,1) rotate(-30)"><text class="xm" x="0" y="0">M</text><text class="xs" x="10.9" y="6.1">4</text><text class="xk" x="12.2" y="-5.6">&#954;</text></g>
<g transform="translate(124.66,495.7) scale(0.7,1) rotate(-30)"><text class="xm" x="0" y="0">M</text><text class="xs" x="10.9" y="6.1">5</text><text class="xk" x="12.2" y="-5.6">&#954;</text></g>
<g transform="translate(147.19,495.7) scale(0.7,1) rotate(-30)"><text class="xm" x="0" y="0">M</text><text class="xs" x="10.9" y="6.1">6</text><text class="xk" x="12.2" y="-5.6">&#954;</text></g>
<g transform="translate(169.72,495.7) scale(0.7,1) rotate(-30)"><text class="xm" x="0" y="0">M</text><text class="xs" x="10.9" y="6.1">7</text><text class="xk" x="12.2" y="-5.6">&#954;</text></g>
<g transform="translate(192.24,495.7) scale(0.7,1) rotate(-30)"><text class="xm" x="0" y="0">M</text><text class="xs" x="10.9" y="6.1">8</text><text class="xk" x="12.2" y="-5.6">&#954;</text></g>
<rect x="269.16" y="381.3" width="3.95" height="89.5" fill="#0072BD"/>
<rect x="273.11" y="377.5" width="3.95" height="93.3" fill="#D95319"/>
<rect x="277.06" y="379.9" width="3.95" height="90.9" fill="#EDB120"/>
<rect x="281.01" y="377.4" width="3.95" height="93.4" fill="#7E2F8E"/>
<rect x="269.16" y="381.3" width="3.95" height="89.5" fill="none" stroke="#000" stroke-width="0.6" stroke-opacity="0.6"/>
<rect x="273.11" y="377.5" width="3.95" height="93.3" fill="none" stroke="#000" stroke-width="0.6" stroke-opacity="0.6"/>
<rect x="277.06" y="379.9" width="3.95" height="90.9" fill="none" stroke="#000" stroke-width="0.6" stroke-opacity="0.6"/>
<rect x="281.01" y="377.4" width="3.95" height="93.4" fill="none" stroke="#000" stroke-width="0.6" stroke-opacity="0.6"/>
<rect x="291.68" y="365.7" width="3.95" height="105.1" fill="#0072BD"/>
<rect x="295.63" y="362.6" width="3.95" height="108.2" fill="#D95319"/>
<rect x="299.58" y="363.8" width="3.95" height="107" fill="#EDB120"/>
<rect x="303.53" y="362.6" width="3.95" height="108.2" fill="#7E2F8E"/>
<rect x="291.68" y="365.7" width="3.95" height="105.1" fill="none" stroke="#000" stroke-width="0.6" stroke-opacity="0.6"/>
<rect x="295.63" y="362.6" width="3.95" height="108.2" fill="none" stroke="#000" stroke-width="0.6" stroke-opacity="0.6"/>
<rect x="299.58" y="363.8" width="3.95" height="107" fill="none" stroke="#000" stroke-width="0.6" stroke-opacity="0.6"/>
<rect x="303.53" y="362.6" width="3.95" height="108.2" fill="none" stroke="#000" stroke-width="0.6" stroke-opacity="0.6"/>
<rect x="314.21" y="332.4" width="3.95" height="138.4" fill="#0072BD"/>
<rect x="318.16" y="331.4" width="3.95" height="139.4" fill="#D95319"/>
<rect x="322.11" y="331.6" width="3.95" height="139.2" fill="#EDB120"/>
<rect x="326.06" y="330.5" width="3.95" height="140.3" fill="#7E2F8E"/>
<rect x="314.21" y="332.4" width="3.95" height="138.4" fill="none" stroke="#000" stroke-width="0.6" stroke-opacity="0.6"/>
<rect x="318.16" y="331.4" width="3.95" height="139.4" fill="none" stroke="#000" stroke-width="0.6" stroke-opacity="0.6"/>
<rect x="322.11" y="331.6" width="3.95" height="139.2" fill="none" stroke="#000" stroke-width="0.6" stroke-opacity="0.6"/>
<rect x="326.06" y="330.5" width="3.95" height="140.3" fill="none" stroke="#000" stroke-width="0.6" stroke-opacity="0.6"/>
<rect x="336.74" y="323.3" width="3.95" height="147.5" fill="#0072BD"/>
<rect x="340.69" y="322.4" width="3.95" height="148.4" fill="#D95319"/>
<rect x="344.64" y="320.8" width="3.95" height="150" fill="#EDB120"/>
<rect x="348.59" y="319.5" width="3.95" height="151.3" fill="#7E2F8E"/>
<rect x="336.74" y="323.3" width="3.95" height="147.5" fill="none" stroke="#000" stroke-width="0.6" stroke-opacity="0.6"/>
<rect x="340.69" y="322.4" width="3.95" height="148.4" fill="none" stroke="#000" stroke-width="0.6" stroke-opacity="0.6"/>
<rect x="344.64" y="320.8" width="3.95" height="150" fill="none" stroke="#000" stroke-width="0.6" stroke-opacity="0.6"/>
<rect x="348.59" y="319.5" width="3.95" height="151.3" fill="none" stroke="#000" stroke-width="0.6" stroke-opacity="0.6"/>
<rect x="359.26" y="360.6" width="3.95" height="110.2" fill="#0072BD"/>
<rect x="363.21" y="362.1" width="3.95" height="108.7" fill="#D95319"/>
<rect x="367.16" y="362.2" width="3.95" height="108.6" fill="#EDB120"/>
<rect x="371.11" y="360.2" width="3.95" height="110.6" fill="#7E2F8E"/>
<rect x="359.26" y="360.6" width="3.95" height="110.2" fill="none" stroke="#000" stroke-width="0.6" stroke-opacity="0.6"/>
<rect x="363.21" y="362.1" width="3.95" height="108.7" fill="none" stroke="#000" stroke-width="0.6" stroke-opacity="0.6"/>
<rect x="367.16" y="362.2" width="3.95" height="108.6" fill="none" stroke="#000" stroke-width="0.6" stroke-opacity="0.6"/>
<rect x="371.11" y="360.2" width="3.95" height="110.6" fill="none" stroke="#000" stroke-width="0.6" stroke-opacity="0.6"/>
<rect x="381.79" y="361.4" width="3.95" height="109.4" fill="#0072BD"/>
<rect x="385.74" y="361.5" width="3.95" height="109.3" fill="#D95319"/>
<rect x="389.69" y="359.5" width="3.95" height="111.3" fill="#EDB120"/>
<rect x="393.64" y="360.2" width="3.95" height="110.6" fill="#7E2F8E"/>
<rect x="381.79" y="361.4" width="3.95" height="109.4" fill="none" stroke="#000" stroke-width="0.6" stroke-opacity="0.6"/>
<rect x="385.74" y="361.5" width="3.95" height="109.3" fill="none" stroke="#000" stroke-width="0.6" stroke-opacity="0.6"/>
<rect x="389.69" y="359.5" width="3.95" height="111.3" fill="none" stroke="#000" stroke-width="0.6" stroke-opacity="0.6"/>
<rect x="393.64" y="360.2" width="3.95" height="110.6" fill="none" stroke="#000" stroke-width="0.6" stroke-opacity="0.6"/>
<rect x="404.32" y="333.5" width="3.95" height="137.3" fill="#0072BD"/>
<rect x="408.27" y="333.5" width="3.95" height="137.3" fill="#D95319"/>
<rect x="412.22" y="334.9" width="3.95" height="135.9" fill="#EDB120"/>
<rect x="416.17" y="335.1" width="3.95" height="135.7" fill="#7E2F8E"/>
<rect x="404.32" y="333.5" width="3.95" height="137.3" fill="none" stroke="#000" stroke-width="0.6" stroke-opacity="0.6"/>
<rect x="408.27" y="333.5" width="3.95" height="137.3" fill="none" stroke="#000" stroke-width="0.6" stroke-opacity="0.6"/>
<rect x="412.22" y="334.9" width="3.95" height="135.9" fill="none" stroke="#000" stroke-width="0.6" stroke-opacity="0.6"/>
<rect x="416.17" y="335.1" width="3.95" height="135.7" fill="none" stroke="#000" stroke-width="0.6" stroke-opacity="0.6"/>
<rect x="426.84" y="326.7" width="3.95" height="144.1" fill="#0072BD"/>
<rect x="430.79" y="327.6" width="3.95" height="143.2" fill="#D95319"/>
<rect x="434.74" y="326.7" width="3.95" height="144.1" fill="#EDB120"/>
<rect x="438.69" y="325.4" width="3.95" height="145.4" fill="#7E2F8E"/>
<rect x="426.84" y="326.7" width="3.95" height="144.1" fill="none" stroke="#000" stroke-width="0.6" stroke-opacity="0.6"/>
<rect x="430.79" y="327.6" width="3.95" height="143.2" fill="none" stroke="#000" stroke-width="0.6" stroke-opacity="0.6"/>
<rect x="434.74" y="326.7" width="3.95" height="144.1" fill="none" stroke="#000" stroke-width="0.6" stroke-opacity="0.6"/>
<rect x="438.69" y="325.4" width="3.95" height="145.4" fill="none" stroke="#000" stroke-width="0.6" stroke-opacity="0.6"/>
<rect x="266.5" y="282.4" width="179.4" height="188.4" fill="none" stroke="#262626" stroke-width="0.8" stroke-opacity="0.6"/>
<line x1="277.36" y1="470.8" x2="277.36" y2="468.6" stroke="#262626" stroke-width="0.8" stroke-opacity="0.6"/>
<line x1="277.36" y1="282.4" x2="277.36" y2="284.6" stroke="#262626" stroke-width="0.8" stroke-opacity="0.6"/>
<line x1="299.88" y1="470.8" x2="299.88" y2="468.6" stroke="#262626" stroke-width="0.8" stroke-opacity="0.6"/>
<line x1="299.88" y1="282.4" x2="299.88" y2="284.6" stroke="#262626" stroke-width="0.8" stroke-opacity="0.6"/>
<line x1="322.41" y1="470.8" x2="322.41" y2="468.6" stroke="#262626" stroke-width="0.8" stroke-opacity="0.6"/>
<line x1="322.41" y1="282.4" x2="322.41" y2="284.6" stroke="#262626" stroke-width="0.8" stroke-opacity="0.6"/>
<line x1="344.94" y1="470.8" x2="344.94" y2="468.6" stroke="#262626" stroke-width="0.8" stroke-opacity="0.6"/>
<line x1="344.94" y1="282.4" x2="344.94" y2="284.6" stroke="#262626" stroke-width="0.8" stroke-opacity="0.6"/>
<line x1="367.46" y1="470.8" x2="367.46" y2="468.6" stroke="#262626" stroke-width="0.8" stroke-opacity="0.6"/>
<line x1="367.46" y1="282.4" x2="367.46" y2="284.6" stroke="#262626" stroke-width="0.8" stroke-opacity="0.6"/>
<line x1="389.99" y1="470.8" x2="389.99" y2="468.6" stroke="#262626" stroke-width="0.8" stroke-opacity="0.6"/>
<line x1="389.99" y1="282.4" x2="389.99" y2="284.6" stroke="#262626" stroke-width="0.8" stroke-opacity="0.6"/>
<line x1="412.52" y1="470.8" x2="412.52" y2="468.6" stroke="#262626" stroke-width="0.8" stroke-opacity="0.6"/>
<line x1="412.52" y1="282.4" x2="412.52" y2="284.6" stroke="#262626" stroke-width="0.8" stroke-opacity="0.6"/>
<line x1="435.04" y1="470.8" x2="435.04" y2="468.6" stroke="#262626" stroke-width="0.8" stroke-opacity="0.6"/>
<line x1="435.04" y1="282.4" x2="435.04" y2="284.6" stroke="#262626" stroke-width="0.8" stroke-opacity="0.6"/>
<line x1="266.5" y1="470.8" x2="268.7" y2="470.8" stroke="#262626" stroke-width="0.8" stroke-opacity="0.6"/>
<line x1="445.9" y1="470.8" x2="443.7" y2="470.8" stroke="#262626" stroke-width="0.8" stroke-opacity="0.6"/>
<line x1="266.5" y1="423.7" x2="268.7" y2="423.7" stroke="#262626" stroke-width="0.8" stroke-opacity="0.6"/>
<line x1="445.9" y1="423.7" x2="443.7" y2="423.7" stroke="#262626" stroke-width="0.8" stroke-opacity="0.6"/>
<line x1="266.5" y1="376.6" x2="268.7" y2="376.6" stroke="#262626" stroke-width="0.8" stroke-opacity="0.6"/>
<line x1="445.9" y1="376.6" x2="443.7" y2="376.6" stroke="#262626" stroke-width="0.8" stroke-opacity="0.6"/>
<line x1="266.5" y1="329.5" x2="268.7" y2="329.5" stroke="#262626" stroke-width="0.8" stroke-opacity="0.6"/>
<line x1="445.9" y1="329.5" x2="443.7" y2="329.5" stroke="#262626" stroke-width="0.8" stroke-opacity="0.6"/>
<line x1="266.5" y1="282.4" x2="268.7" y2="282.4" stroke="#262626" stroke-width="0.8" stroke-opacity="0.6"/>
<line x1="445.9" y1="282.4" x2="443.7" y2="282.4" stroke="#262626" stroke-width="0.8" stroke-opacity="0.6"/>
<text class="tk" text-anchor="end" transform="translate(262.3,475.65) scale(0.67,1)">0</text>
<text class="tk" text-anchor="end" transform="translate(262.3,428.55) scale(0.67,1)">0.2</text>
<text class="tk" text-anchor="end" transform="translate(262.3,381.45) scale(0.67,1)">0.4</text>
<text class="tk" text-anchor="end" transform="translate(262.3,334.35) scale(0.67,1)">0.6</text>
<text class="tk" text-anchor="end" transform="translate(262.3,287.25) scale(0.67,1)">0.8</text>
<text class="lbv" text-anchor="middle" transform="translate(245.9,376.7) scale(0.72,1) rotate(-90)">Value</text>
<text class="lb" text-anchor="middle" transform="translate(355.9,518.7) scale(0.67,1)">Alternatives</text>
<g transform="translate(356.6,276.8) scale(0.76,1)"><text class="tmu" transform="translate(-22.75,0) scale(1.25,1.02)">&#956;</text><path d="M-10.73,-3.65h6.1v1.45h-6.1zM-10.73,-6.25h6.1v1.4h-6.1z" fill="#000"/><text class="tt" x="-0.46" y="0">100</text></g>
<g transform="translate(271.56,495.7) scale(0.7,1) rotate(-30)"><text class="xm" x="0" y="0">M</text><path d="M515,0L515,1237L197,1010L197,1180L530,1409L696,1409L696,0Z" transform="translate(10.9,6.1) scale(0.005176,-0.005176)" fill="#262626" stroke="#262626" stroke-width="40"/><text class="xk" x="12.2" y="-5.6">&#954;</text></g>
<g transform="translate(294.08,495.7) scale(0.7,1) rotate(-30)"><text class="xm" x="0" y="0">M</text><text class="xs" x="10.9" y="6.1">2</text><text class="xk" x="12.2" y="-5.6">&#954;</text></g>
<g transform="translate(316.61,495.7) scale(0.7,1) rotate(-30)"><text class="xm" x="0" y="0">M</text><text class="xs" x="10.9" y="6.1">3</text><text class="xk" x="12.2" y="-5.6">&#954;</text></g>
<g transform="translate(339.14,495.7) scale(0.7,1) rotate(-30)"><text class="xm" x="0" y="0">M</text><text class="xs" x="10.9" y="6.1">4</text><text class="xk" x="12.2" y="-5.6">&#954;</text></g>
<g transform="translate(361.66,495.7) scale(0.7,1) rotate(-30)"><text class="xm" x="0" y="0">M</text><text class="xs" x="10.9" y="6.1">5</text><text class="xk" x="12.2" y="-5.6">&#954;</text></g>
<g transform="translate(384.19,495.7) scale(0.7,1) rotate(-30)"><text class="xm" x="0" y="0">M</text><text class="xs" x="10.9" y="6.1">6</text><text class="xk" x="12.2" y="-5.6">&#954;</text></g>
<g transform="translate(406.72,495.7) scale(0.7,1) rotate(-30)"><text class="xm" x="0" y="0">M</text><text class="xs" x="10.9" y="6.1">7</text><text class="xk" x="12.2" y="-5.6">&#954;</text></g>
<g transform="translate(429.24,495.7) scale(0.7,1) rotate(-30)"><text class="xm" x="0" y="0">M</text><text class="xs" x="10.9" y="6.1">8</text><text class="xk" x="12.2" y="-5.6">&#954;</text></g>
<rect x="450.3" y="277.2" width="58" height="61.1" fill="#fff" stroke="#262626" stroke-width="0.8" stroke-opacity="0.55"/>
<rect x="452.3" y="280.7" width="26.4" height="10.8" fill="#0072BD" stroke="#000" stroke-width="0.5" stroke-opacity="0.75"/>
<g transform="translate(481.4,290.9) scale(0.68,1)"><text class="lg"><tspan class="be">&#946;</tspan><tspan dx="0.8"> = 0.</tspan></text><path d="M515,0L515,1237L197,1010L197,1180L530,1409L696,1409L696,0Z" transform="translate(29.18,0) scale(0.005566,-0.005566)" fill="#262626"/></g>
<rect x="452.3" y="295.3" width="26.4" height="10.8" fill="#D95319" stroke="#000" stroke-width="0.5" stroke-opacity="0.75"/>
<text class="lg" transform="translate(481.4,305.5) scale(0.68,1)"><tspan class="be">&#946;</tspan><tspan dx="0.8"> = 0.5</tspan></text>
<rect x="452.3" y="309.9" width="26.4" height="10.8" fill="#EDB120" stroke="#000" stroke-width="0.5" stroke-opacity="0.75"/>
<text class="lg" transform="translate(481.4,320.1) scale(0.68,1)"><tspan class="be">&#946;</tspan><tspan dx="0.8"> = 0.7</tspan></text>
<rect x="452.3" y="324.5" width="26.4" height="10.8" fill="#7E2F8E" stroke="#000" stroke-width="0.5" stroke-opacity="0.75"/>
<text class="lg" transform="translate(481.4,334.7) scale(0.68,1)"><tspan class="be">&#946;</tspan><tspan dx="0.8"> = 0.9</tspan></text>
</svg>
</body></html>
